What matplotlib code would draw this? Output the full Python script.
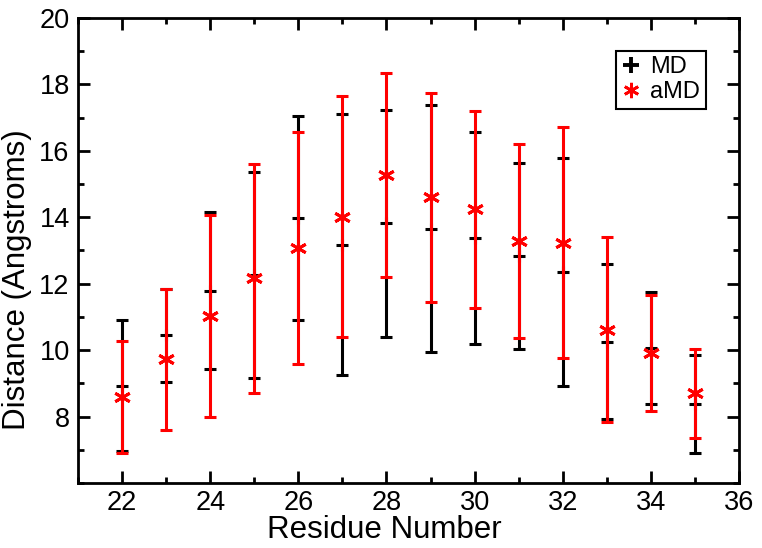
import matplotlib
matplotlib.use("Agg")
import matplotlib.pyplot as plt
from matplotlib.lines import Line2D
from matplotlib.ticker import MultipleLocator

plt.rcParams['font.family'] = ['Liberation Sans', 'DejaVu Sans']

# residue numbers
residues = [22, 23, 24, 25, 26, 27, 28, 29, 30, 31, 32, 33, 34, 35]

# MD mean distance and error
md_mean = [8.93, 10.45, 11.79, 12.25, 13.98, 13.18, 13.82, 13.66, 13.37, 12.83, 12.36, 10.26, 10.07, 8.38]
md_err = [1.97, 1.40, 2.36, 3.10, 3.07, 3.93, 3.42, 3.73, 3.19, 2.80, 3.43, 2.32, 1.69, 1.47]

# aMD mean distance and error
amd_mean = [8.59, 9.72, 11.02, 12.16, 13.08, 14.02, 15.27, 14.60, 14.24, 13.29, 13.24, 10.62, 9.92, 8.70]
amd_err = [1.68, 2.13, 3.04, 3.45, 3.50, 3.63, 3.06, 3.15, 2.96, 2.91, 3.47, 2.78, 1.75, 1.33]

fig = plt.figure(figsize=(7.62, 5.48), dpi=100)
ax = fig.add_axes([0.1024, 0.1186, 0.8674, 0.8486])

ax.errorbar(residues, md_mean, yerr=md_err, fmt='+', color='black', ecolor='black',
            elinewidth=2.2, capsize=4.3, capthick=2.2, markersize=8.5, markeredgewidth=2.2, zorder=2)
ax.errorbar(residues, amd_mean, yerr=amd_err, fmt='none', ecolor='#ff0000',
            elinewidth=2.2, capsize=4.3, capthick=2.2, zorder=3)
ax.plot(residues, amd_mean, linestyle='none', marker=(6, 2, 0), color='#ff0000',
        markersize=12, markeredgewidth=2.1, zorder=4)

ax.set_xlim(21, 36)
ax.set_ylim(6, 20)
ax.xaxis.set_major_locator(MultipleLocator(2))
ax.xaxis.set_minor_locator(MultipleLocator(1))
ax.yaxis.set_major_locator(MultipleLocator(2))
ax.yaxis.set_minor_locator(MultipleLocator(1))
ax.set_yticks([8, 10, 12, 14, 16, 18, 20])

ax.tick_params(which='both', direction='in', top=True, right=True, width=2, labelsize=19.5)
ax.tick_params(axis='x', pad=5)
ax.tick_params(axis='y', pad=6)
ax.tick_params(which='major', length=8.6)
ax.tick_params(which='minor', length=4.3)
for s in ax.spines.values():
    s.set_linewidth(2)

ax.set_xlabel('Residue Number', fontsize=22.5)
ax.set_ylabel('Distance (Angstroms)', fontsize=22.5, va='center')
ax.xaxis.set_label_coords(0.463, -0.068)
ax.yaxis.set_label_coords(-0.093, 0.437)

handles = [Line2D([], [], linestyle='none', marker='+', color='black', markersize=11, markeredgewidth=2.8),
           Line2D([], [], linestyle='none', marker=(6, 2, 0), color='#ff0000', markersize=11, markeredgewidth=2)]
leg = ax.legend(handles, ['MD', 'aMD'], loc='upper right', bbox_to_anchor=(0.95, 0.93),
                fontsize=17, fancybox=False, edgecolor='black', framealpha=1,
                handlelength=0.8, handletextpad=0.4, borderpad=0.25, labelspacing=0.1,
                borderaxespad=0)
leg.get_frame().set_linewidth(1.5)

fig.savefig('out.png', dpi=100)
